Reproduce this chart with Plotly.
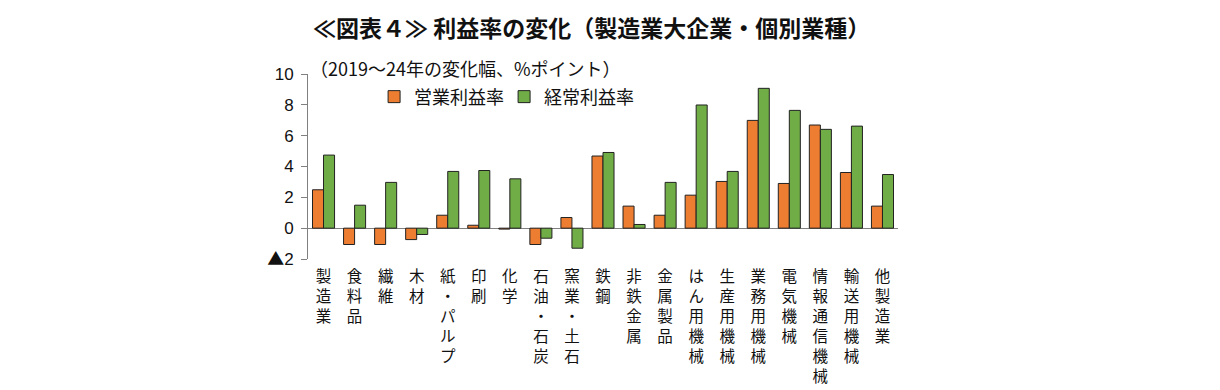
import plotly.graph_objects as go

categories = ["製造業", "食料品", "繊維", "木材", "紙・パルプ", "印刷", "化学",
              "石油・石炭", "窯業・土石", "鉄鋼", "非鉄金属", "金属製品", "はん用機械",
              "生産用機械", "業務用機械", "電気機械", "情報通信機械", "輸送用機械", "他製造業"]
operating = [2.49, -1.06, -1.06, -0.74, 0.84, 0.19, -0.06, -1.06, 0.69, 4.68,
             1.43, 0.84, 2.14, 3.03, 6.99, 2.90, 6.69, 3.61, 1.43]
ordinary = [4.74, 1.49, 2.97, -0.41, 3.68, 3.74, 3.20, -0.65, -1.30, 4.91,
            0.24, 2.97, 7.99, 3.68, 9.07, 7.64, 6.41, 6.62, 3.48]
series_names = ["営業利益率", "経常利益率"]
tick_vals_y = [-2, 0, 2, 4, 6, 8, 10]
tick_text_y = ['<span style="font-family:Noto Sans CJK JP">▲</span>2', "0", "2", "4", "6", "8", "10"]

FONT = "Liberation Sans, Noto Sans CJK JP, sans-serif"
JFONT = "Noto Sans CJK JP, sans-serif"

fig = go.Figure()
fig.add_trace(go.Bar(x=categories, y=operating, name=series_names[0],
                     marker=dict(color="#ED7D31", line=dict(color="#222222", width=1))))
fig.add_trace(go.Bar(x=categories, y=ordinary, name=series_names[1],
                     marker=dict(color="#70AD47", line=dict(color="#222222", width=1))))

fig.update_layout(
    width=1220, height=390,
    margin=dict(l=300, r=330, t=66, b=139),
    paper_bgcolor="white", plot_bgcolor="white",
    barmode="group", bargap=0.29, bargroupgap=0,
    showlegend=True,
    legend=dict(orientation="h", x=0.112, y=0.876, xanchor="left", yanchor="middle",
                font=dict(family=JFONT, size=18, color="#111"),
                bgcolor="rgba(0,0,0,0)", itemwidth=30, traceorder="normal",
                entrywidth=85),
    font=dict(family=FONT, color="#111"),
)
fig.update_xaxes(
    range=[-0.5, 18.5], showgrid=False, showline=False, ticks="",
    tickmode="array", tickvals=categories,
    ticktext=["<br>".join(list(c)) for c in categories],
    tickfont=dict(family=JFONT, size=15.5, color="#111"), tickangle=0,
    ticklabelstandoff=6,
)
fig.update_yaxes(
    range=[-2, 10], tickvals=tick_vals_y, ticktext=tick_text_y,
    showgrid=False, showline=True, linecolor="#808080", linewidth=1,
    ticks="outside", ticklen=6, tickcolor="#808080",
    zeroline=True, zerolinecolor="#808080", zerolinewidth=1,
    tickfont=dict(family=FONT, size=17, color="#111"),
    ticklabelstandoff=4,
)

fig.add_annotation(text="（2019～24年の変化幅、%ポイント）", xref="paper", yref="paper",
                   x=0.0, y=1.032, xanchor="left", yanchor="middle", showarrow=False,
                   font=dict(family=JFONT, size=18, color="#111"))
fig.add_annotation(text="<b>≪図表４≫ 利益率の変化（製造業大企業・個別業種）</b>",
                   xref="paper", yref="paper", x=0.481, y=1.256,
                   xanchor="center", yanchor="middle", showarrow=False,
                   font=dict(family=JFONT, size=23, color="#111"))

fig.write_html("out.html")
